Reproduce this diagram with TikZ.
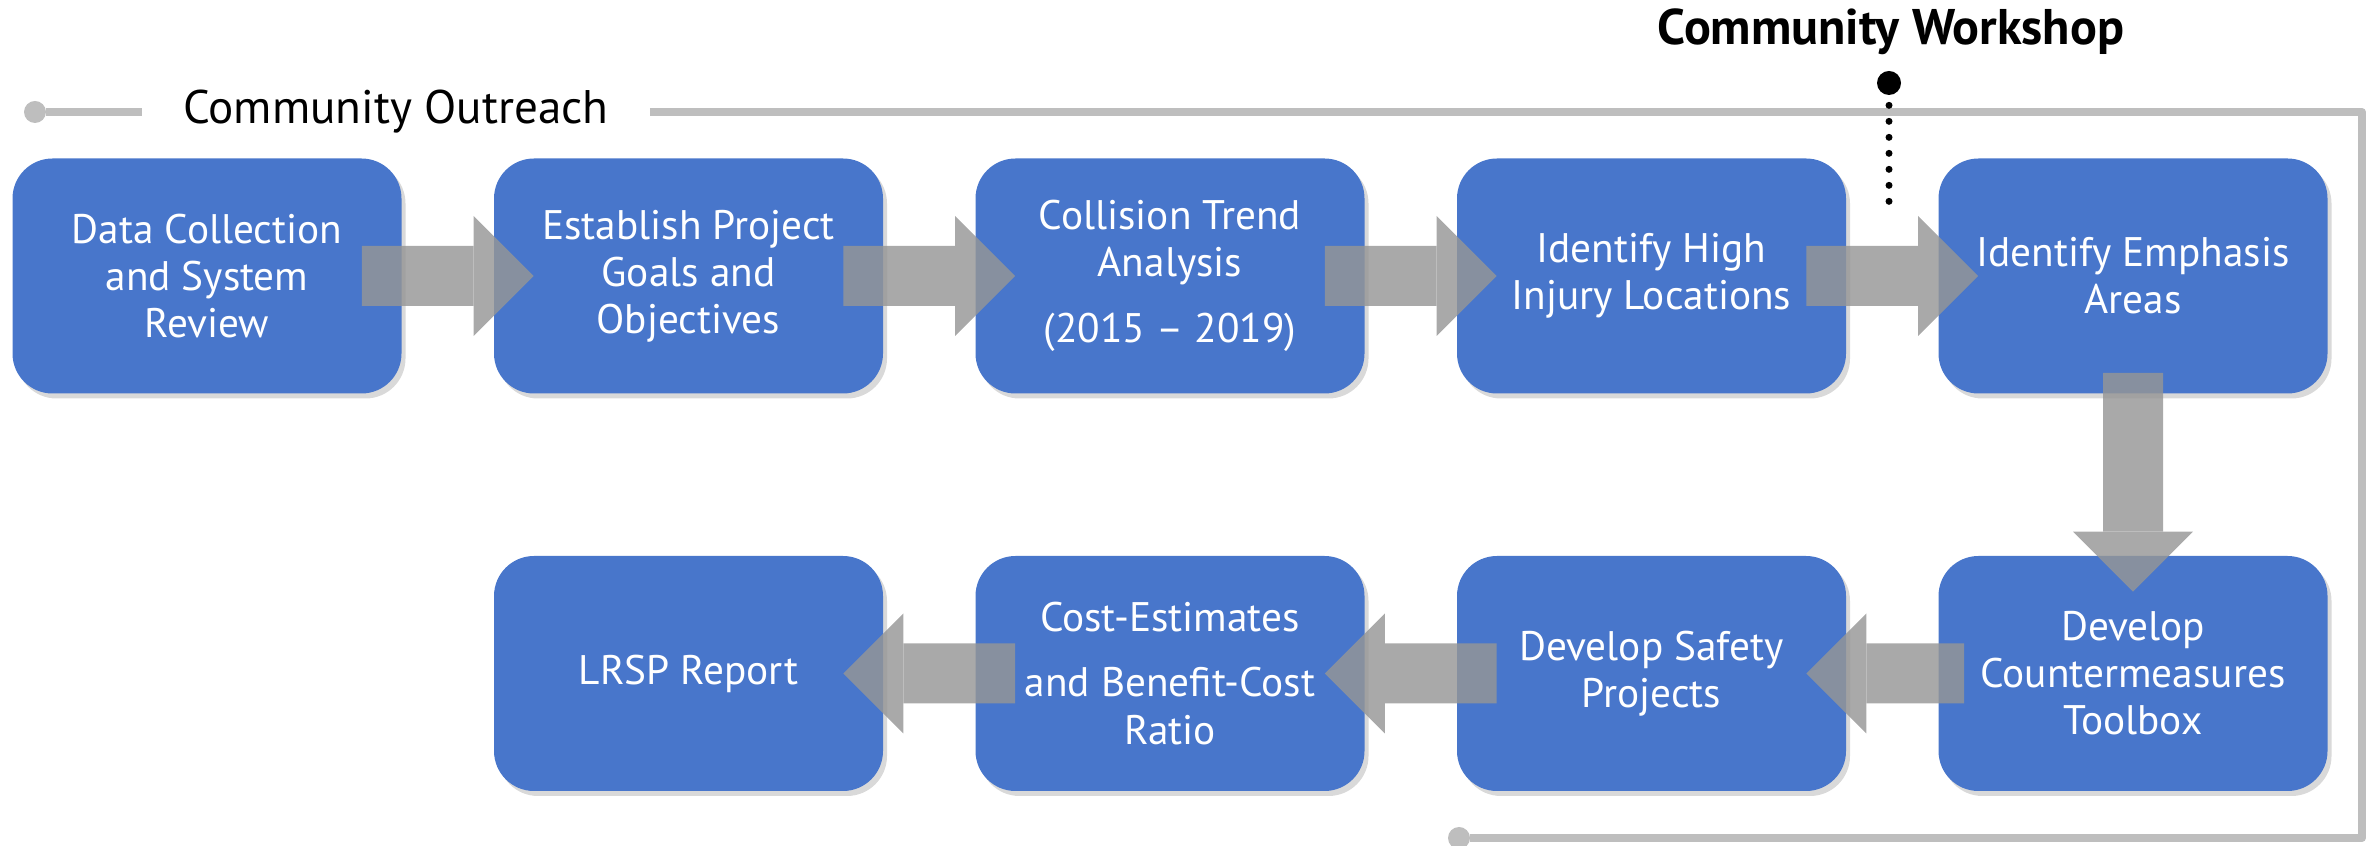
\documentclass[tikz,border=0pt]{standalone}
\usepackage{fontspec}
\setmainfont{PT Sans}
\usetikzlibrary{shadows,arrows.meta}

\definecolor{boxblue}{RGB}{72,118,203}
\definecolor{arrowgray}{RGB}{150,150,150}
\definecolor{linegray}{RGB}{190,190,190}

\tikzset{
  stepbox/.style={rectangle, rounded corners=0.8cm, fill=boxblue, text=white,
    minimum width=7.78cm, minimum height=4.7cm, inner sep=0pt, align=center,
    font=\fontsize{23.5}{26.8}\selectfont,
    drop shadow={shadow xshift=0.08cm, shadow yshift=-0.1cm, opacity=0.3}},
  flow/.style={draw=arrowgray, line width=1.2cm,
    -{Triangle[length=1.2cm, width=2.4cm, line width=0pt]}},
  outline/.style={draw=linegray, line width=0.16cm},
  enddot/.style={circle, fill=linegray, inner sep=0pt, minimum size=0.44cm},
}

\begin{document}
\begin{tikzpicture}
\useasboundingbox (0,0) rectangle (47.48,16.92);

% outreach line round the whole process
\node[enddot] (ostart) at (0.70,14.68) {};
\node[anchor=west, inner xsep=0.82cm, inner ysep=0pt,
  font=\fontsize{26.8}{30}\selectfont] (outreach) at (2.84,14.68) {Community Outreach};
\node[enddot] (oend) at (29.18,0.16) {};
\coordinate (ocorner1) at (47.24,14.68);
\coordinate (ocorner2) at (47.24,0.16);
\draw[outline] (ostart) -- (outreach.west);
\draw[outline, line join=round] (outreach.east) -- (ocorner1) -- (ocorner2) -- (oend);

% workshop marker
\node[font=\bfseries\fontsize{28.5}{32}\selectfont, anchor=base] (workshop) at (37.82,16.02) {Community Workshop};
\node[circle, fill=black, inner sep=0pt, minimum size=0.48cm] (wdot) at (37.78,15.26) {};
\coordinate (wend) at (37.78,12.58);
\draw[line width=0.14cm, line cap=round, dash pattern=on 0pt off 0.32cm]
  ([yshift=-0.2cm]wdot.south) -- (wend);

% steps
\node[stepbox] (data) at (4.14,11.40) {Data Collection\\and System\\Review};
\node[stepbox] (goals) at (13.77,11.40) {Establish Project\\Goals and\\Objectives};
\node[stepbox] (trend) at (23.40,11.40) {Collision Trend\\Analysis\\[0.38cm](2015 – 2019)};
\node[stepbox] (injury) at (33.03,11.40) {Identify High\\Injury Locations};
\node[stepbox] (emphasis) at (42.66,11.40) {Identify Emphasis\\Areas};
\node[stepbox] (toolbox) at (42.66,3.45) {Develop\\Countermeasures\\Toolbox};
\node[stepbox] (safety) at (33.03,3.45) {Develop Safety\\Projects};
\node[stepbox] (cost) at (23.40,3.45) {Cost-Estimates\\[0.36cm]and Benefit-Cost\\Ratio};
\node[stepbox] (report) at (13.77,3.45) {LRSP Report};

% block arrows
\begin{scope}[transparency group, opacity=0.82]
\draw[flow] ([xshift=-0.8cm]data.east) -- ([xshift=0.8cm]goals.west);
\draw[flow] ([xshift=-0.8cm]goals.east) -- ([xshift=0.8cm]trend.west);
\draw[flow] ([xshift=-0.8cm]trend.east) -- ([xshift=0.8cm]injury.west);
\draw[flow] ([xshift=-0.8cm]injury.east) -- ([xshift=0.8cm]emphasis.west);
\draw[flow] ([yshift=0.42cm]emphasis.south) -- ([yshift=-0.72cm]toolbox.north);
\draw[flow] ([xshift=0.52cm]toolbox.west) -- ([xshift=-0.8cm]safety.east);
\draw[flow] ([xshift=0.8cm]safety.west) -- ([xshift=-0.8cm]cost.east);
\draw[flow] ([xshift=0.8cm]cost.west) -- ([xshift=-0.8cm]report.east);
\end{scope}
\end{tikzpicture}
\end{document}
